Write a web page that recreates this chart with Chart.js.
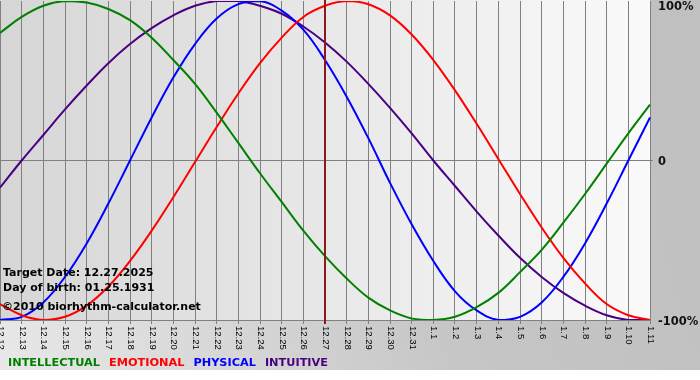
<!DOCTYPE html>
<html>
<head>
<meta charset="utf-8">
<script src="https://cdn.jsdelivr.net/npm/chart.js@4/dist/chart.umd.min.js"></script>
<style>
  body { margin: 0; background: #fff; }
  canvas { display: block; }
</style>
</head>
<body>
<canvas id="bioChart" width="700" height="380"></canvas>
<script>
const dates = ['12.12', '12.13', '12.14', '12.15', '12.16', '12.17', '12.18', '12.19', '12.20', '12.21',
    '12.22', '12.23', '12.24', '12.25', '12.26', '12.27', '12.28', '12.29', '12.30', '12.31',
    '1.1', '1.2', '1.3', '1.4', '1.5', '1.6', '1.7', '1.8', '1.9', '1.10', '1.11'];

const intellectual = [80, 90, 97, 100, 99, 95, 88, 77, 63, 48, 30, 11, -8, -26, -44, -60,
    -74, -86, -94, -99, -100, -98, -92, -83, -70, -56, -39, -21, -2, 17, 35];
const emotional = [-90, -97, -100, -98, -91, -79, -63, -44, -23, -1, 21, 42, 61, 77, 90, 97,
    100, 98, 91, 79, 63, 44, 23, 1, -21, -42, -61, -77, -90, -97, -100];
const physical = [-100, -98, -89, -73, -52, -27, 0, 27, 52, 73, 89, 98, 100, 94, 82, 63,
    40, 14, -14, -40, -63, -82, -94, -100, -98, -89, -73, -52, -27, 0, 27];
const intuitive = [-17, 0, 16, 32, 47, 61, 73, 83, 91, 97, 100, 100, 97, 92, 84, 74,
    62, 48, 33, 17, 0, -16, -32, -47, -61, -73, -83, -91, -97, -100, -100];

const seriesNames = ['INTELLECTUAL', 'EMOTIONAL', 'PHYSICAL', 'INTUITIVE'];
const yTickValues = [100, 0, -100];
const yTickLabels = ['100%', '0', '-100%'];
const targetDay = '12.27';
const infoLines = ['Target Date: 12.27.2025', 'Day of birth: 01.25.1931', '\u00A92010 biorhythm-calculator.net'];

const ctx = document.getElementById('bioChart').getContext('2d');

const decorPlugin = {
    id: 'decor',
    beforeDraw(chart) {
        const c = chart.ctx;
        const a = chart.chartArea;
        c.save();
        c.fillStyle = '#ffffff';
        c.fillRect(0, 0, chart.width, chart.height);
        // outer frame gradient (right + bottom)
        const g = c.createLinearGradient(0, 370, 700, 150);
        g.addColorStop(0, '#e8e8e8');
        g.addColorStop(0.6, '#c6c6c6');
        g.addColorStop(1, '#c0c0c0');
        c.fillStyle = g;
        c.fillRect(0, 0, chart.width, 370);
        // plot area gradient
        const pg = c.createLinearGradient(a.left, 0, a.right, 0);
        pg.addColorStop(0, '#d6d6d6');
        pg.addColorStop(1, '#fafafa');
        c.fillStyle = pg;
        c.fillRect(a.left, 0, a.right - a.left, a.bottom);
        c.restore();
    },
    afterDatasetsDraw(chart) {
        const c = chart.ctx;
        const a = chart.chartArea;
        const xs = chart.scales.x;
        const ys = chart.scales.y;
        c.save();

        // target day marker
        const tx = Math.round(xs.getPixelForValue(dates.indexOf(targetDay)));
        c.strokeStyle = '#8b1a1a';
        c.lineWidth = 2;
        c.beginPath();
        c.moveTo(tx, 0);
        c.lineTo(tx, a.bottom + 4);
        c.stroke();

        // info text
        c.fillStyle = '#000';
        c.font = 'bold 11px "DejaVu Sans"';
        c.textAlign = 'left';
        c.textBaseline = 'alphabetic';
        c.fillText(infoLines[0], 3, 276);
        c.fillText(infoLines[1], 3, 291);
        c.fillText(infoLines[2], 2, 310);

        // x tick labels, rotated to read downwards
        c.font = '9.5px "Liberation Sans"';
        c.fillStyle = '#000';
        c.textBaseline = 'middle';
        dates.forEach((d, i) => {
            const x = xs.getPixelForValue(i);
            c.save();
            c.translate(x + 0.5, a.bottom + 6);
            c.rotate(Math.PI / 2);
            c.fillText(d, 0, 0);
            c.restore();
        });

        // y tick labels on the right
        c.font = 'bold 11.5px "DejaVu Sans"';
        c.fillStyle = '#111';
        yTickValues.forEach((v, i) => {
            let y = ys.getPixelForValue(v);
            y = Math.min(Math.max(y + 2, 7), a.bottom + 2);
            c.fillText(yTickLabels[i], a.right + 8, y);
        });

        // legend
        c.font = 'bold 11.3px "DejaVu Sans"';
        c.textBaseline = 'alphabetic';
        let lx = 8;
        chart.data.datasets.forEach(ds => {
            c.fillStyle = ds.borderColor;
            c.fillText(ds.label, lx, 366);
            lx += c.measureText(ds.label).width + 9;
        });
        c.restore();
    }
};

const bioChart = new Chart(ctx, {
    type: 'line',
    data: {
        labels: dates,
        datasets: [
            { label: seriesNames[0], data: intellectual, borderColor: '#008000' },
            { label: seriesNames[1], data: emotional, borderColor: '#ff0000' },
            { label: seriesNames[2], data: physical, borderColor: '#0000ff' },
            { label: seriesNames[3], data: intuitive, borderColor: '#4b0082' }
        ]
    },
    options: {
        responsive: false,
        animation: false,
        layout: { padding: { top: 1, left: 0, right: 0, bottom: 0 } },
        elements: {
            line: { borderWidth: 2, tension: 0.4, fill: false },
            point: { radius: 0 }
        },
        plugins: {
            legend: { display: false },
            tooltip: { enabled: false }
        },
        scales: {
            x: {
                offset: false,
                ticks: { display: false },
                grid: { color: '#808080', tickLength: 4 },
                border: { color: '#808080' },
                afterFit(scale) { scale.height = 60; }
            },
            y: {
                position: 'right',
                min: -100,
                max: 100,
                ticks: { display: false, stepSize: 100 },
                grid: {
                    color: c => (c.tick && c.tick.value === 0) ? '#808080' : 'rgba(0,0,0,0)',
                    tickLength: 3
                },
                border: { display: false },
                afterFit(scale) { scale.width = 50; }
            }
        }
    },
    plugins: [decorPlugin]
});
</script>
</body>
</html>
